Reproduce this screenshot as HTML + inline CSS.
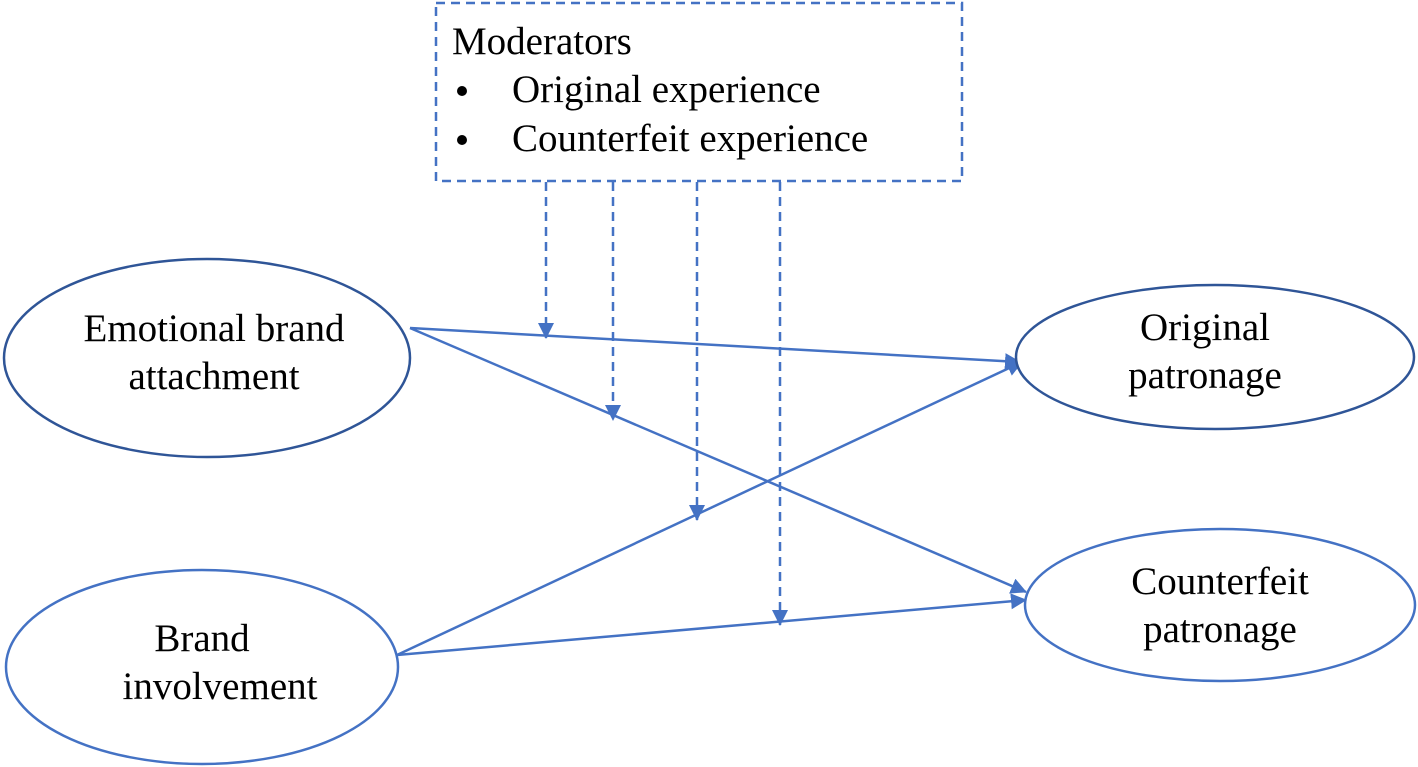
<!DOCTYPE html>
<html><head><meta charset="utf-8"><style>
html,body{margin:0;padding:0;background:#fff;}
svg{display:block}
text{font-family:"Liberation Serif",serif;fill:#000;}
</style></head><body>
<svg width="1418" height="767" viewBox="0 0 1418 767" xmlns="http://www.w3.org/2000/svg">
<defs>
<marker id="b" markerWidth="16" markerHeight="16" refX="15" refY="8" orient="auto" markerUnits="userSpaceOnUse" viewBox="0 0 16 16">
<path d="M0,0 L16,8 L0,16 z" fill="#4472C4"/></marker>
</defs>
<rect x="436" y="3" width="526" height="178" fill="none" stroke="#4472C4" stroke-width="2.5" stroke-dasharray="9,6"/>
<text x="452" y="54" font-size="39">Moderators</text>
<circle cx="462" cy="91" r="5" fill="#000"/>
<text x="512" y="102" font-size="39">Original experience</text>
<circle cx="462" cy="140" r="5" fill="#000"/>
<text x="512" y="151" font-size="39">Counterfeit experience</text>
<g stroke="#4472C4" stroke-width="2.5" stroke-dasharray="9,6" fill="none" marker-end="url(#b)">
<line x1="546" y1="182" x2="546" y2="338"/>
<line x1="613" y1="182" x2="613" y2="420"/>
<line x1="697" y1="182" x2="697" y2="520"/>
<line x1="780" y1="182" x2="780" y2="625"/>
</g>
<g stroke="#4472C4" stroke-width="2.5" fill="none" marker-end="url(#b)">
<line x1="410" y1="328" x2="1020" y2="362"/>
<line x1="410" y1="328" x2="1026" y2="592"/>
<line x1="397" y1="655" x2="1022" y2="362"/>
<line x1="397" y1="655" x2="1026" y2="600"/>
</g>
<ellipse cx="207" cy="358" rx="203" ry="99" fill="#fff" stroke="#2F5597" stroke-width="2.5"/>
<ellipse cx="202" cy="667" rx="196" ry="97" fill="#fff" stroke="#4472C4" stroke-width="2.5"/>
<ellipse cx="1215" cy="357" rx="199" ry="72" fill="#fff" stroke="#2F5597" stroke-width="2.5"/>
<ellipse cx="1220" cy="605" rx="195" ry="76" fill="#fff" stroke="#4472C4" stroke-width="2.5"/>
<g font-size="39" text-anchor="middle">
<text x="214" y="341">Emotional brand</text>
<text x="214" y="389">attachment</text>
<text x="202" y="651">Brand</text>
<text x="220" y="699">involvement</text>
<text x="1205" y="340">Original</text>
<text x="1205" y="388">patronage</text>
<text x="1220" y="594">Counterfeit</text>
<text x="1220" y="642">patronage</text>
</g>
</svg>
</body></html>
